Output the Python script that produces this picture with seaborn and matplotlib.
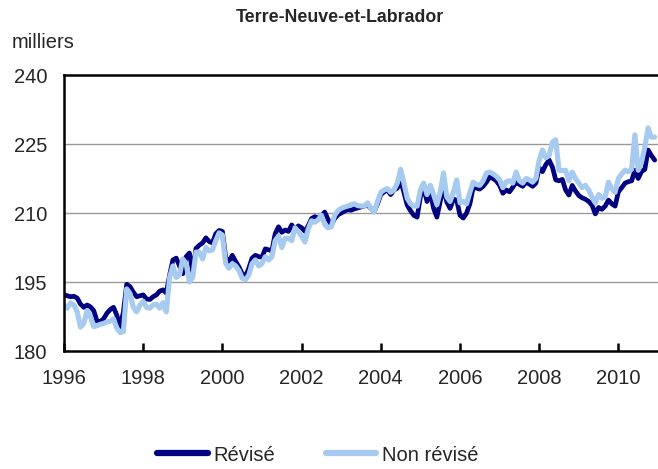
import numpy as np
import pandas as pd
import matplotlib
matplotlib.use("Agg")
import matplotlib.pyplot as plt
import seaborn as sns

# monthly values, Jan 1996 - Dec 2010 (thousands)
revise = [
    192.3, 192.0, 191.8, 191.9, 191.5, 190.2, 189.5, 190.0, 189.6, 188.8, 186.5, 186.4,  # 1996
    187.0, 188.2, 189.0, 189.5, 187.8, 185.2, 188.5, 194.5, 194.0, 192.8, 191.8, 192.0,  # 1997
    192.2, 191.3, 191.2, 191.8, 192.2, 193.0, 193.3, 192.6, 196.5, 199.8, 200.2, 198.5,  # 1998
    196.8, 200.5, 201.3, 197.2, 202.3, 203.0, 203.5, 204.6, 203.8, 203.5, 205.5, 206.2,  # 1999
    206.0, 200.3, 199.4, 200.8, 199.5, 198.3, 196.8, 196.2, 198.0, 200.2, 200.8, 200.5,  # 2000
    200.4, 202.2, 202.0, 201.8, 205.5, 207.0, 205.8, 206.3, 206.0, 207.4, 206.5, 207.2,  # 2001
    206.8, 206.0, 207.2, 208.8, 209.2, 208.9, 209.4, 210.2, 208.6, 207.4, 208.8, 209.6,  # 2002
    210.0, 210.4, 210.7, 210.6, 210.9, 211.1, 211.3, 211.5, 211.7, 211.0, 210.3, 212.0,  # 2003
    214.0, 214.6, 215.0, 214.0, 215.0, 215.4, 217.0, 214.5, 211.7, 210.5, 209.5, 209.1,  # 2004
    213.5, 215.6, 212.5, 214.5, 211.0, 209.1, 212.5, 215.6, 212.4, 211.0, 213.0, 212.8,  # 2005
    209.5, 208.9, 210.0, 212.0, 215.6, 215.4, 215.2, 215.8, 216.7, 217.8, 217.5, 217.0,  # 2006
    216.0, 214.3, 215.0, 214.6, 215.6, 216.7, 216.2, 215.8, 216.7, 216.3, 215.8, 216.5,  # 2007
    219.8, 219.0, 220.5, 221.5, 220.0, 217.2, 217.0, 217.3, 215.0, 213.9, 216.0, 214.8,  # 2008
    213.8, 213.3, 213.0, 212.5, 211.7, 209.8, 211.2, 210.8, 211.5, 212.8, 212.0, 211.5,  # 2009
    214.6, 215.5, 216.5, 216.8, 217.0, 219.3, 217.5, 219.0, 219.5, 223.7, 222.5, 221.5,  # 2010
]
non_revise = [
    190.0, 189.3, 190.5, 190.0, 188.5, 185.2, 186.0, 188.8, 187.5, 185.3, 185.5, 185.8,  # 1996
    186.0, 186.3, 186.5, 187.0, 185.0, 184.0, 184.2, 193.5, 192.5, 189.5, 188.5, 190.0,  # 1997
    190.8, 189.5, 189.3, 190.0, 190.2, 189.3, 190.5, 188.5, 196.0, 198.5, 196.0, 196.5,  # 1998
    200.0, 199.0, 195.0, 196.0, 201.5, 201.5, 200.0, 202.5, 201.8, 202.0, 204.0, 205.7,  # 1999
    205.2, 199.0, 198.0, 199.0, 198.5, 197.5, 195.8, 195.5, 196.5, 199.0, 199.8, 198.5,  # 2000
    199.0, 200.5, 199.8, 200.5, 204.0, 205.0, 202.5, 204.5, 204.5, 204.0, 206.8, 206.0,  # 2001
    205.0, 203.7, 206.5, 208.3, 208.0, 208.5, 209.5, 207.5, 206.8, 207.0, 209.5, 210.5,  # 2002
    211.0, 211.3, 211.5, 211.8, 212.0, 211.6, 211.5, 211.5, 212.2, 211.0, 210.2, 212.5,  # 2003
    214.5, 215.0, 215.3, 214.5, 215.0, 216.5, 219.5, 216.5, 213.2, 212.0, 211.5, 211.5,  # 2004
    215.0, 216.5, 214.0, 216.0, 214.0, 211.8, 214.5, 218.7, 213.5, 212.5, 214.5, 217.2,  # 2005
    212.2, 212.5, 212.0, 214.5, 216.7, 216.2, 216.0, 217.0, 218.7, 218.9, 218.5, 218.0,  # 2006
    217.2, 215.5, 216.8, 217.0, 216.5, 218.9, 217.0, 216.5, 217.5, 217.2, 216.7, 217.5,  # 2007
    221.5, 223.7, 222.0, 222.5, 225.4, 225.9, 219.3, 219.2, 219.3, 217.0, 218.9, 217.5,  # 2008
    216.5, 215.5, 216.0, 215.0, 213.5, 212.2, 214.0, 213.2, 213.5, 216.7, 215.2, 214.5,  # 2009
    217.5, 218.5, 219.3, 219.0, 219.5, 227.0, 219.3, 221.0, 224.3, 228.5, 226.5, 226.5,  # 2010
]
years = list(range(1996, 2011))
year_ticks = [1996, 1998, 2000, 2002, 2004, 2006, 2008, 2010]
y_ticks = [180, 195, 210, 225, 240]

# time axis in fractional years
t = np.array([y + m / 12 for y in years for m in range(12)])

df = pd.DataFrame({
    "t": np.concatenate([t, t]),
    "value": revise + non_revise,
    "serie": ["Révisé"] * len(t) + ["Non révisé"] * len(t),
})

sns.set_theme(style="white")
plt.rcParams["font.family"] = ["Liberation Sans", "DejaVu Sans"]

fig = plt.figure(figsize=(6.58, 4.69), dpi=100)
ax = fig.add_axes([64 / 658, 1 - 351 / 469, 1 - 64 / 658, 276 / 469])

sns.lineplot(
    data=df, x="t", y="value", hue="serie",
    palette={"Révisé": "#000080", "Non révisé": "#a6caf0"},
    linewidth=3.4, ax=ax, legend=False,
)
ax.lines[0].set_linewidth(3.4)
ax.lines[1].set_linewidth(3.7)

ax.set_xlim(1996, 2011)
ax.set_ylim(180, 240)
ax.set_xticks(year_ticks)
ax.set_xticklabels([str(y) for y in year_ticks])
ax.set_yticks(y_ticks)
ax.set_xlabel("")
ax.set_ylabel("")

for y in y_ticks[1:-1]:
    ax.axhline(y, color="#999999", linewidth=1.0, zorder=0)

for side in ["left", "bottom", "top"]:
    ax.spines[side].set_visible(True)
    ax.spines[side].set_color("black")
    ax.spines[side].set_linewidth(1.8)
ax.spines["right"].set_visible(False)

ax.tick_params(axis="x", direction="in", length=6, width=1.8, color="black",
               labelsize=14.5, pad=13, bottom=True)
ax.tick_params(axis="y", length=0, labelsize=14.5, pad=12)

fig.text(340 / 658, 1 - 18 / 469, "Terre-Neuve-et-Labrador", ha="center", va="center",
         fontsize=12.8, fontweight="bold")
fig.text(12 / 658, 1 - 42 / 469, "milliers", ha="left", va="center", fontsize=14.5)

handles = [
    plt.Line2D([], [], color="#000080", linewidth=4.5, solid_capstyle="round"),
    plt.Line2D([], [], color="#a6caf0", linewidth=4.5, solid_capstyle="round"),
]
fig.legend(handles, ["Révisé", "Non révisé"], loc="center", bbox_to_anchor=(318 / 658, 1 - 455 / 469),
           ncol=2, frameon=False, fontsize=14.5, handlelength=2.5, handletextpad=0.3,
           columnspacing=2.5)

fig.savefig("out.png", dpi=100)
